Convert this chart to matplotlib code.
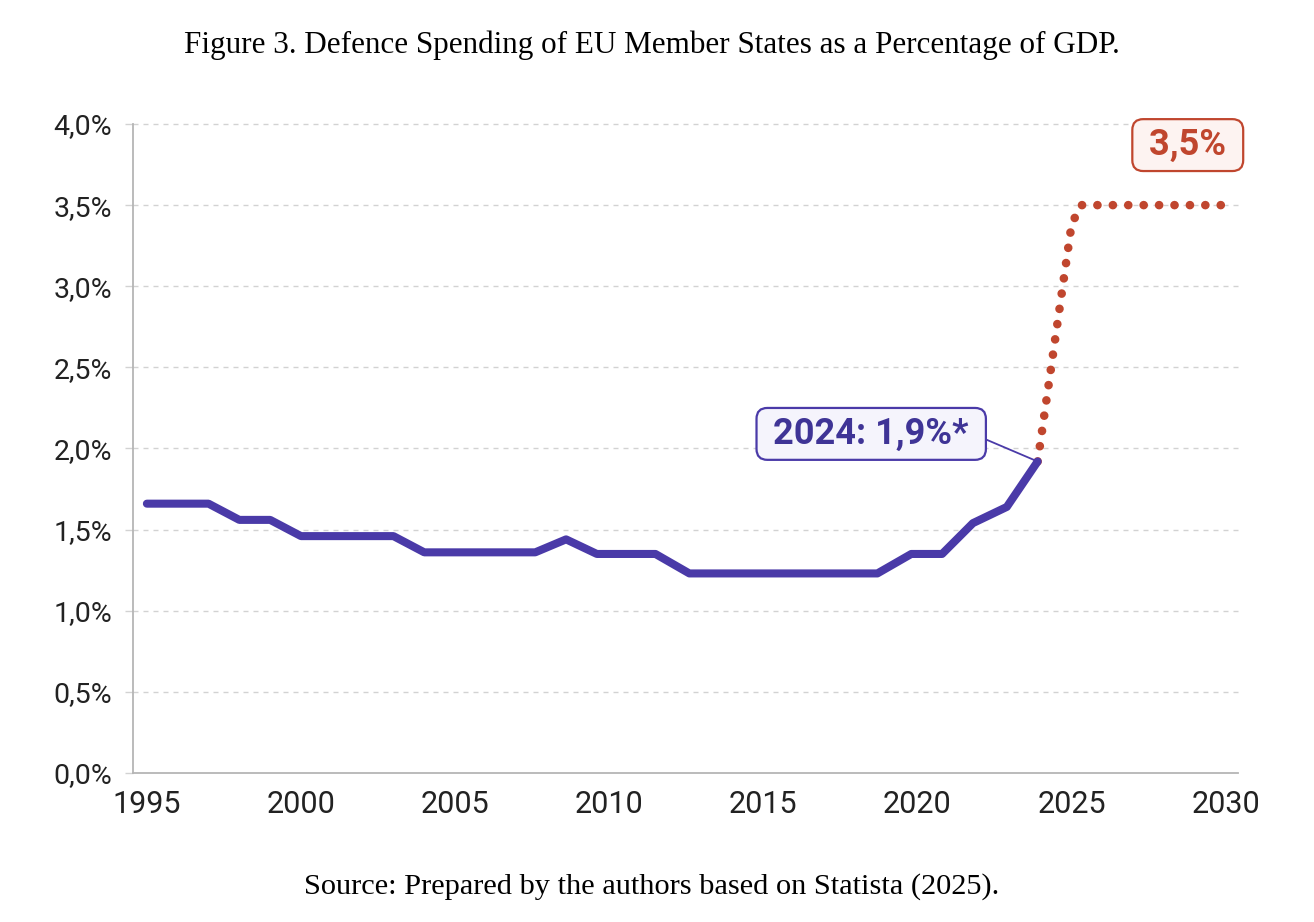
import matplotlib.pyplot as plt
from matplotlib.ticker import FuncFormatter

# historical share of GDP (%) as drawn in the figure
years = [1995, 1997, 1998, 1999, 2000, 2003, 2004, 2007.6, 2008.6, 2009.6,
         2011.5, 2012.6, 2018.7, 2019.8, 2020.8, 2021.8, 2022.9, 2023.9]
share = [1.66, 1.66, 1.56, 1.56, 1.46, 1.46, 1.36, 1.36, 1.44, 1.35,
         1.35, 1.23, 1.23, 1.35, 1.35, 1.54, 1.64, 1.92]

# projected path to the 3.5% target
target_years = [2023.9, 2025.0, 2025.3, 2030.2]
target_share = [1.92, 3.38, 3.50, 3.50]

x_ticks = [1995, 2000, 2005, 2010, 2015, 2020, 2025, 2030]
y_ticks = [0.0, 0.5, 1.0, 1.5, 2.0, 2.5, 3.0, 3.5, 4.0]

PURPLE = "#4a3aa8"
PURPLE_TXT = "#3f3496"
RED = "#c0462e"
GREY = "#b5b5b5"
SANS = ["Roboto", "DejaVu Sans"]
SERIF = ["Liberation Serif", "DejaVu Serif"]

fig = plt.figure(figsize=(13.14, 9.22), dpi=100)
ax = fig.add_axes([133 / 1314, 1 - 773 / 922, (1238 - 133) / 1314, (773 - 124) / 922])

ax.plot(years, share, color=PURPLE, lw=5.8, solid_capstyle="round", zorder=3)
ax.plot(target_years, target_share, color=RED, lw=6.2, linestyle=(0, (0.01, 1.78)),
        dash_capstyle="round", zorder=2, clip_on=False)

ax.set_xlim(1994.55, 2030.4)
ax.set_ylim(0, 4.0)
ax.set_xticks(x_ticks)
ax.set_yticks(y_ticks)
ax.yaxis.set_major_formatter(FuncFormatter(lambda v, _: f"{v:.1f}".replace(".", ",") + "%"))

for y in y_ticks[1:]:
    ax.axhline(y, color="#d2d2d2", lw=1.0, ls=(0, (3.6, 3.6)), zorder=1, clip_on=False)

for side in ["top", "right"]:
    ax.spines[side].set_visible(False)
for side in ["left", "bottom"]:
    ax.spines[side].set_color(GREY)
    ax.spines[side].set_linewidth(1.3)

ax.tick_params(axis="x", length=0, pad=12, labelsize=22, labelcolor="#222222")
ax.tick_params(axis="y", length=6, width=1.0, color="#d2d2d2", pad=9, labelsize=20.5,
               labelcolor="#222222")
for lab in ax.get_xticklabels() + ax.get_yticklabels():
    lab.set_family(SANS)

ax.annotate(" 2024: 1,9%* ", xy=(years[-1], share[-1]), xytext=(2018.5, 2.09),
            ha="center", va="center", fontsize=26, fontweight="bold", color=PURPLE_TXT,
            family=SANS,
            bbox=dict(boxstyle="round,pad=0.22,rounding_size=0.3", fc="#f5f4fc", ec=PURPLE, lw=1.6),
            arrowprops=dict(arrowstyle="-", color=PURPLE, lw=1.3, relpos=(1.0, 0.44),
                            shrinkA=0, shrinkB=0),
            zorder=4)

ax.text(2028.77, 3.87, " 3,5% ", ha="center", va="center", fontsize=26, fontweight="bold",
        color=RED, family=SANS, clip_on=False,
        bbox=dict(boxstyle="round,pad=0.22,rounding_size=0.3", fc="#fdf3f1", ec=RED, lw=1.6),
        zorder=4)

fig.text(0.4958, 1 - 53 / 922, "Figure 3. Defence Spending of EU Member States as a Percentage of GDP.",
         ha="center", va="baseline", fontsize=22.4, family=SERIF, color="black")
fig.text(0.4958, 1 - 894 / 922, "Source: Prepared by the authors based on Statista (2025).",
         ha="center", va="baseline", fontsize=21.9, family=SERIF, color="black")

fig.savefig("out.png", dpi=100, facecolor="white")
